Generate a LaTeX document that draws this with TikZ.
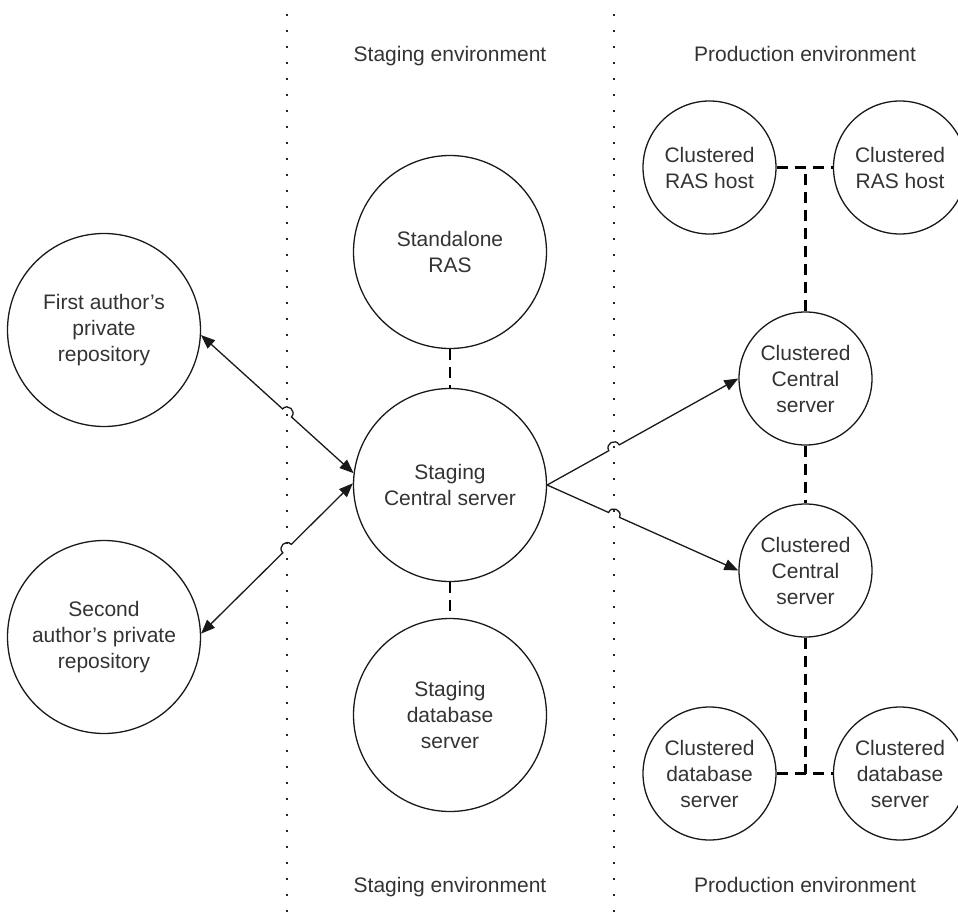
\documentclass[tikz,border=0pt]{standalone}
\usepackage{fontspec}
\setmainfont{Liberation Sans}
\usetikzlibrary{arrows.meta,calc}
\newcommand{\hopdraw}[4]{%
  \coordinate (hx) at (intersection of #2--#3 and #4top--#4bot);
  \coordinate (h1) at ($(hx)!6pt!(#2)$);
  \coordinate (h2) at ($(hx)!6pt!(#3)$);
  \draw[conn,#1] (#2) -- (h1) .. controls ($(h1)!8pt!90:(hx)$) and ($(h2)!8pt!-90:(hx)$) .. (h2) -- (#3);
}
\begin{document}
\begin{tikzpicture}[x=1pt,y=-1pt,
  bubble/.style={circle,draw=black!90,line width=1.3pt,inner sep=0pt,align=center,
    text=black!80,font=\fontsize{21}{26}\selectfont},
  big/.style={bubble,minimum size=193pt},
  small/.style={bubble,minimum size=133pt},
  envlabel/.style={text=black!80,font=\fontsize{21}{26}\selectfont,anchor=base,inner sep=0pt},
  conn/.style={draw=black!90,line width=1.3pt},
  tip/.style={-{Triangle[length=14pt,width=11pt]}},
  tips/.style={{Triangle[length=14pt,width=11pt]}-{Triangle[length=14pt,width=11pt]}},
  dashlink/.style={draw=black,line width=2.2pt,dash pattern=on 11pt off 7pt},
  dotline/.style={draw=black!85,line width=2pt,dash pattern=on 2pt off 14pt}]
\useasboundingbox (0,0) rectangle (958,912);
% dotted separators
\coordinate (atop) at (287,14);
\coordinate (abot) at (287,912);
\coordinate (btop) at (614,14);
\coordinate (bbot) at (614,912);
\draw[dotline] (atop) -- (abot);
\draw[dotline] (btop) -- (bbot);
% labels
\node[envlabel] (st) at (450,62) {Staging environment};
\node[envlabel] (pt) at (805,62) {Production environment};
\node[envlabel] (sb) at (450,892) {Staging environment};
\node[envlabel] (pb) at (805,892) {Production environment};
% nodes
\node[big] (first) at (104,330) {First author's\\private\\repository};
\node[big] (second) at (104,637) {Second\\author's private\\repository};
\node[big] (ras) at (450,252) {Standalone\\RAS};
\node[big] (staging) at (450,485) {Staging\\Central server};
\node[big] (sdb) at (450,715) {Staging\\database\\server};
\node[small] (crasL) at (709.5,167.5) {Clustered\\RAS host};
\node[small] (crasR) at (900,167.5) {Clustered\\RAS host};
\node[small] (ccU) at (805.5,378.5) {Clustered\\Central\\server};
\node[small] (ccL) at (805.5,570.5) {Clustered\\Central\\server};
\node[small] (cdbL) at (709.5,773.5) {Clustered\\database\\server};
\node[small] (cdbR) at (900,773.5) {Clustered\\database\\server};
% dashed links
\draw[dashlink] (ras.south) -- (staging.north);
\draw[dashlink] (staging.south) -- (sdb.north);
\draw[dashlink] (crasL.east) -- (crasR.west);
\draw[dashlink] (ccU.north) -- (ccU.north |- crasL.east);
\draw[dashlink] (ccU.south) -- (ccL.north);
\draw[dashlink] (ccL.south) -- (ccL.south |- cdbL.east);
\draw[dashlink] (cdbL.east) -- (cdbR.west);
% arrows with hops
\coordinate (f1) at (first.-3);
\coordinate (s1) at (staging.173);
\coordinate (f2) at (second.2);
\coordinate (s2) at (staging.179);
\hopdraw{tips}{f1}{s1}{a}
\hopdraw{tips}{f2}{s2}{a}
\coordinate (se) at (staging.east);
\coordinate (u1) at (ccU.west);
\coordinate (l1) at (ccL.west);
\hopdraw{tip}{se}{u1}{b}
\hopdraw{tip}{se}{l1}{b}
\end{tikzpicture}
\end{document}
